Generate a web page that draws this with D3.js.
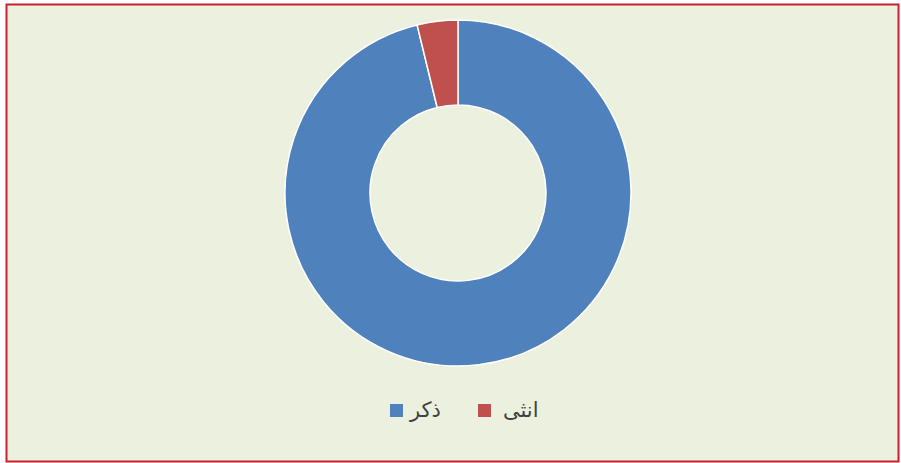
<!DOCTYPE html>
<html>
<head>
<meta charset="utf-8">
<script src="https://cdn.jsdelivr.net/npm/d3@7"></script>
<style>
  html, body { margin: 0; padding: 0; background: #ffffff; }
  svg { display: block; }
</style>
</head>
<body>
<div id="chart"></div>
<script>
// data
const categories = ["ذكر", "انثى"];
const values = [96.2, 3.8];
const colors = ["#4f81bd", "#c0504d"];

const W = 901, H = 463;
const svg = d3.select("#chart").append("svg")
    .attr("width", W)
    .attr("height", H);

// chart area with border
svg.append("rect")
    .attr("x", 6.5).attr("y", 4.5)
    .attr("width", 892).attr("height", 457)
    .attr("fill", "#ebf1de")
    .attr("stroke", "#c8202e")
    .attr("stroke-width", 2);

const cx = 458, cy = 193;
const outerR = 173, innerR = 88;

const pie = d3.pie().sort(null).value(d => d);
const arc = d3.arc().innerRadius(innerR).outerRadius(outerR);

const g = svg.append("g").attr("transform", `translate(${cx},${cy})`);
g.selectAll("path")
    .data(pie(values))
    .enter()
    .append("path")
    .attr("d", arc)
    .attr("fill", (d, i) => colors[i])
    .attr("stroke", "#ffffff")
    .attr("stroke-width", 1.5);

// legend
const legendX = [390, 478];
const textX = [410, 503];
const legend = svg.append("g");
categories.forEach((c, i) => {
    legend.append("rect")
        .attr("x", legendX[i]).attr("y", 404)
        .attr("width", 13).attr("height", 13)
        .attr("fill", colors[i]);
    legend.append("text")
        .attr("x", textX[i])
        .attr("y", 417)
        .attr("font-family", "DejaVu Sans, sans-serif")
        .attr("font-size", 21)
        .attr("fill", "#404040")
        .attr("text-anchor", "start")
        .text(c);
});
</script>
</body>
</html>
